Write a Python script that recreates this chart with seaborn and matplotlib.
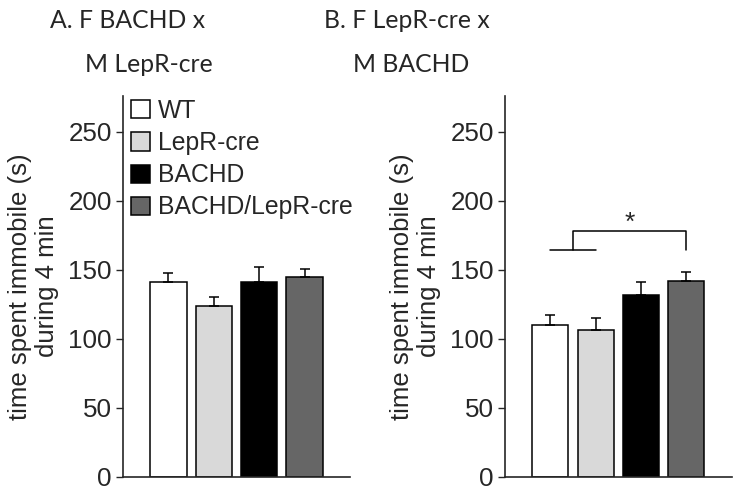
import numpy as np
import pandas as pd
import matplotlib
matplotlib.use("Agg")
import matplotlib.pyplot as plt
from matplotlib.patches import Patch
import seaborn as sns

# data
genotypes = ["WT", "LepR-cre", "BACHD", "BACHD/LepR-cre"]
colors = ["#ffffff", "#d9d9d9", "#000000", "#666666"]
mean_a = [141, 124, 141, 145]
sem_a = [7, 6, 11, 5.5]
mean_b = [110, 106, 132, 142]
sem_b = [7.5, 9, 9, 6.5]
yticks = [0, 50, 100, 150, 200, 250]
# significance bracket in panel B (WT+LepR-cre vs BACHD/LepR-cre)
bracket_low = 164.5
bracket_high = 178
star_y = 184

sns.set_style("ticks")
plt.rcParams["font.family"] = ["Liberation Sans", "DejaVu Sans"]

fig = plt.figure(figsize=(7.38, 4.88), dpi=100)
ax_a = fig.add_axes([123 / 738, 1 - 476.7 / 488, 227 / 738, 380.7 / 488])
ax_b = fig.add_axes([505 / 738, 1 - 476.7 / 488, 226.7 / 738, 380.7 / 488])


def draw_panel(ax, means, sems):
    df = pd.DataFrame({"genotype": genotypes, "value": means})
    sns.barplot(data=df, x="genotype", y="value", hue="genotype",
                palette=colors, order=genotypes, hue_order=genotypes,
                edgecolor="black", linewidth=1.1, width=0.8,
                legend=False, ax=ax)
    ax.errorbar(np.arange(len(means)), means,
                yerr=[np.zeros(len(sems)), sems], fmt="none",
                ecolor="black", elinewidth=1.1, capsize=3.5, capthick=1.1,
                zorder=1)
    ax.set_xlim(-1, 4)
    ax.set_ylim(0, 276)
    ax.set_yticks(yticks)
    ax.set_yticklabels([str(t) for t in yticks], fontsize=18.7)
    ax.set_xticks([])
    ax.set_xlabel("")
    ax.set_ylabel("time spent immobile (s)\nduring 4 min", fontsize=18.5,
                  linespacing=1.15, labelpad=7)
    ax.tick_params(axis="y", length=5, width=1, direction="out", pad=3)
    sns.despine(ax=ax)
    for s in ["left", "bottom"]:
        ax.spines[s].set_linewidth(1.2)


draw_panel(ax_a, mean_a, sem_a)
draw_panel(ax_b, mean_b, sem_b)

# legend in panel A
handles = [Patch(facecolor=c, edgecolor="black", linewidth=1.1) for c in colors]
ax_a.legend(handles, genotypes, loc="upper left",
            bbox_to_anchor=(131 / 738, 1 - 99 / 488),
            bbox_transform=fig.transFigure, frameon=False, fontsize=17.8,
            handlelength=0.75, handleheight=0.75, handletextpad=0.35,
            labelspacing=0.33, borderpad=0, borderaxespad=0)

# significance bracket in panel B
ax_b.plot([0, 1], [bracket_low, bracket_low], color="black", lw=1.1)
ax_b.plot([0.5, 0.5, 3, 3], [bracket_low, bracket_high, bracket_high, bracket_low],
          color="black", lw=1.1)
ax_b.text(1.75, star_y, "*", ha="center", va="center", fontsize=19)

# panel titles
tfont = dict(fontsize=17.8, family=["Lato", "DejaVu Sans"], va="baseline", ha="center")
fig.text(127.5 / 738, 1 - 28.3 / 488, "A. F BACHD x", **tfont)
fig.text(149 / 738, 1 - 72.5 / 488, "M LepR-cre", **tfont)
fig.text(407 / 738, 1 - 28.3 / 488, "B. F LepR-cre x", **tfont)
fig.text(411.5 / 738, 1 - 72.5 / 488, "M BACHD", **tfont)

fig.savefig("out.png", dpi=100)
